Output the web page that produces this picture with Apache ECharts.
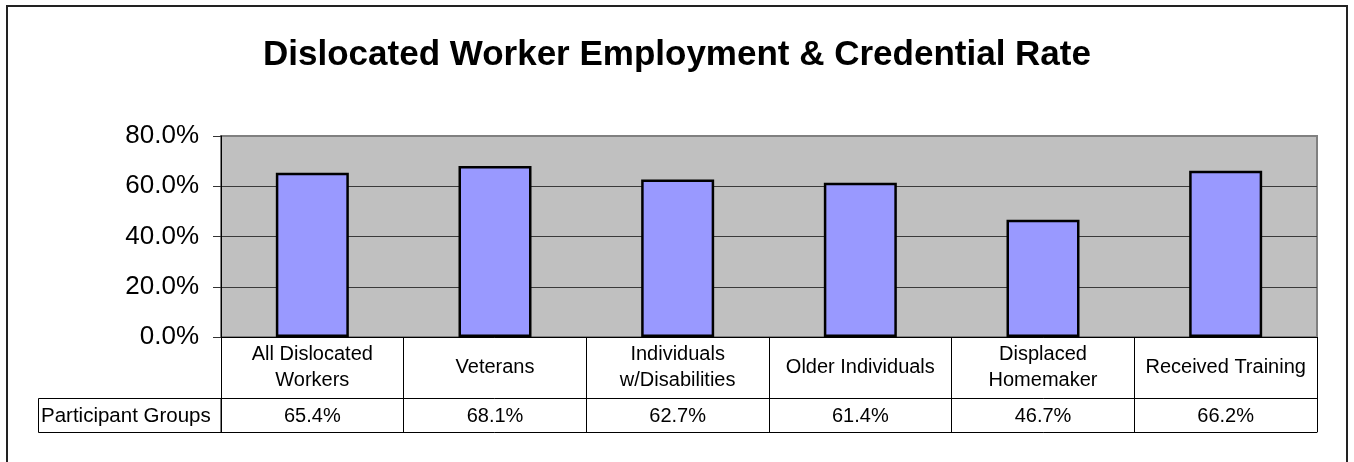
<!DOCTYPE html>
<html>
<head>
<meta charset="utf-8">
<title>Dislocated Worker Employment &amp; Credential Rate</title>
<script src="https://cdn.jsdelivr.net/npm/echarts@6/dist/echarts.min.js"></script>
<style>
  html, body { margin: 0; padding: 0; background: #ffffff; }
  #chart { width: 1354px; height: 462px; }
</style>
</head>
<body>
<div id="chart"></div>
<script>
// Participant groups (table header row) and their rates in percent
const categories = [
  'All Dislocated\nWorkers',
  'Veterans',
  'Individuals\nw/Disabilities',
  'Older Individuals',
  'Displaced\nHomemaker',
  'Received Training'
];
const rates = [65.4, 68.1, 62.7, 61.4, 46.7, 66.2];
const yTicks = [0, 20, 40, 60, 80];
const rowHeader = 'Participant Groups';
const chartTitle = 'Dislocated Worker Employment & Credential Rate';

const FONT = "'Liberation Sans', Arial, sans-serif";
const pct = v => v.toFixed(1) + '%';
const rateLabels = rates.map(pct);

// Plot rectangle in pixels
const G = { left: 221, top: 136, right: 1317, bottom: 337 };
const ROW1 = 61;   // header row height below the axis
const ROW2 = 34;   // value row height

const chart = echarts.init(document.getElementById('chart'), null, { renderer: 'canvas' });

chart.setOption({
  backgroundColor: '#ffffff',
  animation: false,
  title: {
    text: chartTitle,
    left: 'center',
    top: 33,
    textStyle: { fontFamily: FONT, fontWeight: 'bold', fontSize: 35, color: '#000000' }
  },
  grid: {
    left: G.left,
    top: G.top,
    right: 1354 - G.right,
    bottom: 462 - G.bottom,
    show: true,
    backgroundColor: '#C0C0C0',
    borderColor: '#808080',
    borderWidth: 2
  },
  yAxis: {
    type: 'value',
    min: yTicks[0],
    max: yTicks[yTicks.length - 1],
    interval: yTicks[1] - yTicks[0],
    axisLine: { show: true, lineStyle: { color: '#000000', width: 1 } },
    axisTick: { show: true, length: 8, lineStyle: { color: '#333333' } },
    axisLabel: {
      margin: 22,
      formatter: v => pct(v),
      fontFamily: FONT,
      fontSize: 26,
      color: '#000000'
    },
    splitLine: {
      show: true,
      showMinLine: false,
      showMaxLine: false,
      lineStyle: { color: '#3a3a3a', width: 1 }
    }
  },
  xAxis: [
    {
      // header row: group names, ticks form the column dividers of the table
      type: 'category',
      data: categories,
      position: 'bottom',
      boundaryGap: true,
      axisLine: { show: true, lineStyle: { color: '#000000', width: 1 } },
      axisTick: { show: true, alignWithLabel: false, interval: 0, length: ROW1 + ROW2, lineStyle: { color: '#000000', width: 1 } },
      axisLabel: {
        interval: 0,
        margin: 30,
        verticalAlign: 'middle',
        fontFamily: FONT,
        fontSize: 20,
        lineHeight: 26,
        color: '#000000'
      },
      splitLine: { show: false }
    },
    {
      // value row of the data table
      type: 'category',
      data: rateLabels,
      position: 'bottom',
      offset: ROW1,
      axisLine: { show: true, lineStyle: { color: '#000000', width: 1 } },
      axisTick: { show: false },
      axisLabel: {
        interval: 0,
        margin: 18,
        verticalAlign: 'middle',
        fontFamily: FONT,
        fontSize: 20,
        color: '#000000'
      },
      splitLine: { show: false }
    },
    {
      // bottom edge of the data table
      type: 'category',
      data: categories,
      position: 'bottom',
      offset: ROW1 + ROW2,
      axisLine: { show: true, lineStyle: { color: '#000000', width: 1 } },
      axisTick: { show: false },
      axisLabel: { show: false },
      splitLine: { show: false }
    }
  ],
  series: [
    {
      type: 'bar',
      xAxisIndex: 0,
      data: rates,
      barWidth: 73,
      itemStyle: { color: '#9999FF', borderColor: '#000000', borderWidth: 2.5 }
    }
  ],
  graphic: [
    {
      // outer chart frame
      type: 'rect',
      shape: { x: 7, y: 6, width: 1340, height: 500 },
      style: { fill: 'none', stroke: '#222222', lineWidth: 2 },
      silent: true
    },
    {
      // row header cell of the data table
      type: 'rect',
      shape: { x: 38.5, y: G.bottom + ROW1 + 0.5, width: G.left - 38.5, height: ROW2 },
      style: { fill: 'none', stroke: '#000000', lineWidth: 1 },
      silent: true
    },
    {
      type: 'text',
      x: 41,
      y: G.bottom + ROW1 + ROW2 / 2 + 1,
      style: {
        text: rowHeader,
        fontFamily: FONT,
        fontSize: 20.5,
        fill: '#000000',
        align: 'left',
        verticalAlign: 'middle'
      },
      silent: true
    }
  ]
});
</script>
</body>
</html>
